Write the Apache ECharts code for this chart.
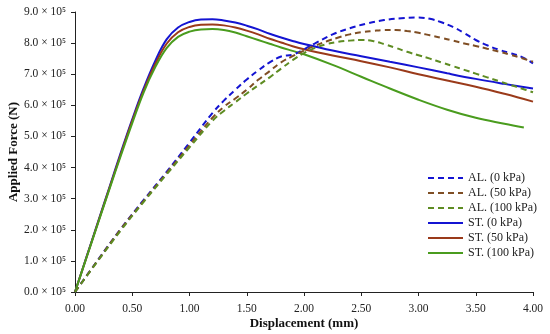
<!DOCTYPE html>
<html>
<head>
<meta charset="utf-8">
<script src="https://cdn.jsdelivr.net/npm/echarts@6/dist/echarts.min.js"></script>
<style>html,body{margin:0;padding:0;background:#fff;}#c{width:550px;height:334px;}</style>
</head>
<body>
<div id="c"></div>
<script>
// Displacement (mm) and Applied Force (x 1e5 N)
const seriesNames = ['AL. (0 kPa)', 'AL. (50 kPa)', 'AL. (100 kPa)', 'ST. (0 kPa)', 'ST. (50 kPa)', 'ST. (100 kPa)'];
const xTicks = [0, 0.5, 1, 1.5, 2, 2.5, 3, 3.5, 4];

const al0_x = [0, 0.2, 0.4, 0.6, 0.8, 1.0, 1.2, 1.3, 1.4, 1.5, 1.6, 1.7, 1.8, 1.9, 2.0, 2.1, 2.25, 2.4, 2.55, 2.7, 2.85, 3.0, 3.1, 3.2, 3.3, 3.4, 3.5, 3.6, 3.7, 3.8, 3.9, 4.0];
const al0_y = [0, 1.03, 2.03, 2.96, 3.86, 4.8, 5.75, 6.15, 6.5, 6.83, 7.12, 7.38, 7.57, 7.63, 7.8, 8.0, 8.28, 8.48, 8.63, 8.74, 8.8, 8.82, 8.78, 8.67, 8.52, 8.32, 8.1, 7.93, 7.79, 7.68, 7.56, 7.35];

const al50_x = [0, 0.2, 0.4, 0.6, 0.8, 1.0, 1.2, 1.3, 1.4, 1.5, 1.6, 1.7, 1.8, 1.9, 2.0, 2.1, 2.2, 2.3, 2.4, 2.5, 2.6, 2.7, 2.8, 2.9, 3.0, 3.1, 3.2, 3.3, 3.4, 3.5, 3.6, 3.7, 3.8, 3.9, 4.0];
const al50_y = [0, 1.02, 2.02, 2.93, 3.82, 4.72, 5.6, 5.95, 6.22, 6.5, 6.82, 7.1, 7.38, 7.58, 7.76, 7.92, 8.06, 8.18, 8.28, 8.35, 8.39, 8.42, 8.42, 8.39, 8.33, 8.25, 8.17, 8.08, 7.99, 7.91, 7.82, 7.73, 7.63, 7.52, 7.4];

const al100_x = [0, 0.2, 0.4, 0.6, 0.8, 1.0, 1.2, 1.3, 1.4, 1.5, 1.6, 1.7, 1.8, 1.9, 2.0, 2.1, 2.2, 2.3, 2.4, 2.5, 2.6, 2.7, 2.8, 2.9, 3.0, 3.1, 3.2, 3.3, 3.4, 3.5, 3.6, 3.7, 3.8, 3.9, 4.0];
const al100_y = [0, 1.0, 1.98, 2.9, 3.78, 4.65, 5.5, 5.82, 6.1, 6.38, 6.64, 6.9, 7.18, 7.45, 7.68, 7.85, 7.97, 8.04, 8.08, 8.1, 8.07, 7.97, 7.85, 7.72, 7.61, 7.5, 7.38, 7.26, 7.14, 7.02, 6.9, 6.78, 6.66, 6.54, 6.42];

const st0_x = [0, 0.1, 0.2, 0.3, 0.4, 0.5, 0.6, 0.7, 0.8, 0.9, 1.0, 1.1, 1.2, 1.3, 1.4, 1.5, 1.6, 1.7, 1.8, 1.9, 2.0, 2.25, 2.5, 2.75, 3.0, 3.25, 3.5, 3.75, 4.0];
const st0_y = [0, 1.12, 2.24, 3.36, 4.48, 5.55, 6.55, 7.42, 8.12, 8.5, 8.68, 8.76, 8.77, 8.73, 8.66, 8.56, 8.44, 8.3, 8.18, 8.07, 7.97, 7.76, 7.58, 7.4, 7.22, 7.03, 6.85, 6.69, 6.54];

const st50_x = [0, 0.1, 0.2, 0.3, 0.4, 0.5, 0.6, 0.7, 0.8, 0.9, 1.0, 1.1, 1.2, 1.3, 1.4, 1.5, 1.6, 1.7, 1.8, 1.9, 2.0, 2.25, 2.5, 2.75, 3.0, 3.25, 3.5, 3.75, 4.0];
const st50_y = [0, 1.11, 2.22, 3.33, 4.43, 5.5, 6.48, 7.32, 7.98, 8.35, 8.52, 8.59, 8.6, 8.57, 8.5, 8.4, 8.28, 8.14, 8.02, 7.9, 7.8, 7.6, 7.42, 7.22, 7.0, 6.8, 6.6, 6.37, 6.12];

const st100_x = [0, 0.1, 0.2, 0.3, 0.4, 0.5, 0.6, 0.7, 0.8, 0.9, 1.0, 1.1, 1.2, 1.3, 1.4, 1.5, 1.6, 1.7, 1.8, 1.9, 2.0, 2.25, 2.5, 2.75, 3.0, 3.25, 3.5, 3.75, 3.92];
const st100_y = [0, 1.1, 2.2, 3.3, 4.38, 5.43, 6.42, 7.22, 7.84, 8.2, 8.37, 8.44, 8.45, 8.42, 8.34, 8.22, 8.1, 7.98, 7.86, 7.75, 7.64, 7.3, 6.92, 6.54, 6.18, 5.86, 5.6, 5.41, 5.29];

const colors = ['#1414d2', '#7f4e24', '#5e8c22', '#1414d2', '#9a3a1a', '#4a9c1e'];
const FONT = '"Liberation Serif", "DejaVu Serif", serif';

function pairs(xs, ys) { return xs.map((x, i) => [x, ys[i] * 1e5]); }
const allX = [al0_x, al50_x, al100_x, st0_x, st50_x, st100_x];
const allY = [al0_y, al50_y, al100_y, st0_y, st50_y, st100_y];

const series = seriesNames.map((name, i) => ({
  name: name,
  type: 'line',
  data: pairs(allX[i], allY[i]),
  smooth: 0.4,
  symbol: 'none',
  lineStyle: { color: colors[i], width: 2, type: i < 3 ? [6, 4] : 'solid' },
  itemStyle: { color: colors[i] },
  z: i < 3 ? 3 : 2
}));

const chart = echarts.init(document.getElementById('c'), null, { renderer: 'canvas' });
chart.setOption({
  animation: false,
  backgroundColor: '#fff',
  grid: { left: 75, right: 17, top: 12, bottom: 42, containLabel: false, outerBoundsMode: 'none' },
  legend: {
    orient: 'vertical',
    left: 422, top: 167,
    itemWidth: 35, itemHeight: 12, itemGap: 3,
    itemStyle: { opacity: 0 },
    textStyle: { fontFamily: FONT, fontSize: 12, color: '#222' },
    data: seriesNames
  },
  xAxis: {
    type: 'value', min: 0, max: 4, interval: 0.5,
    name: 'Displacement (mm)', nameLocation: 'middle', nameGap: 25, nameMoveOverlap: false,
    nameTextStyle: { fontFamily: FONT, fontSize: 13, fontWeight: 'bold', color: '#111' },
    axisLine: { lineStyle: { color: '#222', width: 1 } },
    axisTick: { show: true, inside: false, length: 4, lineStyle: { color: '#222' } },
    axisLabel: { fontFamily: FONT, fontSize: 11.5, color: '#222', margin: 11, formatter: v => v.toFixed(2) },
    splitLine: { show: false }
  },
  yAxis: {
    type: 'value', min: 0, max: 9e5, interval: 1e5,
    name: 'Applied Force (N)', nameLocation: 'middle', nameGap: 55, nameRotate: 90, nameMoveOverlap: false,
    nameTextStyle: { fontFamily: FONT, fontSize: 13, fontWeight: 'bold', color: '#111' },
    axisLine: { show: true, lineStyle: { color: '#222', width: 1 } },
    axisTick: { show: true, inside: false, length: 4, lineStyle: { color: '#222' } },
    axisLabel: { fontFamily: FONT, fontSize: 11.5, color: '#222', margin: 9, formatter: v => (v / 1e5).toFixed(1) + ' × 10\u2075' },
    splitLine: { show: false }
  },
  series: series
});
</script>
</body>
</html>
